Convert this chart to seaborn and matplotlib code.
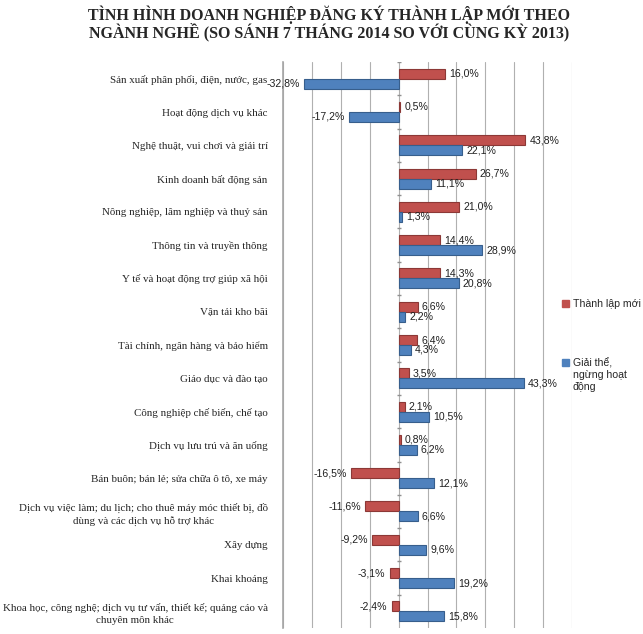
import pandas as pd
import seaborn as sns
import matplotlib.pyplot as plt
from matplotlib.patches import Patch

# Categories (top to bottom) and the two series, in %
nganh = [
    'Sản xuất phân phối, điện, nước, gas',
    'Hoạt động dịch vụ khác',
    'Nghệ thuật, vui chơi và giải trí',
    'Kinh doanh bất động sản',
    'Nông nghiệp, lâm nghiệp và thuỷ sản',
    'Thông tin và truyền thông',
    'Y tế và hoạt động trợ giúp xã hội',
    'Vận tải kho bãi',
    'Tài chính, ngân hàng và bảo hiểm',
    'Giáo dục và đào tạo',
    'Công nghiệp chế biến, chế tạo',
    'Dịch vụ lưu trú và ăn uống',
    'Bán buôn; bán lẻ; sửa chữa ô tô, xe máy',
    'Dịch vụ việc làm; du lịch; cho thuê máy móc thiết bị, đồ\ndùng và các dịch vụ hỗ trợ khác',
    'Xây dựng',
    'Khai khoáng',
    'Khoa học, công nghệ; dịch vụ tư vấn, thiết kế; quảng cáo và\nchuyên môn khác',
]
thanh_lap_moi = [16.0, 0.5, 43.8, 26.7, 21.0, 14.4, 14.3, 6.6, 6.4, 3.5, 2.1, 0.8,
                 -16.5, -11.6, -9.2, -3.1, -2.4]
giai_the = [-32.8, -17.2, 22.1, 11.1, 1.3, 28.9, 20.8, 2.2, 4.3, 43.3, 10.5, 6.2,
            12.1, 6.6, 9.6, 19.2, 15.8]
series = ['Thành lập mới', 'Giải thể, ngừng hoạt động']
x_ticks = [-40, -30, -20, -10, 0, 10, 20, 30, 40, 50, 60]

colors = ['#C0504D', '#4F81BD']
edges = ['#8C3836', '#375E8C']

df = pd.DataFrame({
    'nganh': nganh * 2,
    'giatri': thanh_lap_moi + giai_the,
    'loai': [series[0]] * len(nganh) + [series[1]] * len(nganh),
})

sns.set_style('white')
plt.rcParams['font.family'] = ['Liberation Serif', 'DejaVu Serif']

fig = plt.figure(figsize=(6.43, 6.34), dpi=100)
ax = fig.add_axes([283 / 643, 1 - 628 / 634, (572 - 283) / 643, (628 - 62) / 634])

sns.barplot(data=df, x='giatri', y='nganh', hue='loai', hue_order=series,
            palette=colors, orient='h', width=0.6, ax=ax, legend=False,
            saturation=1)

for cont, ec in zip(ax.containers, edges):
    for bar in cont:
        bar.set_edgecolor(ec)
        bar.set_linewidth(0.8)
        bar.set_zorder(3)
    vals = [b.get_width() for b in cont]
    ax.bar_label(cont, labels=[f'{v:.1f}%'.replace('.', ',') for v in vals],
                 padding=3, fontsize=7.6, family='Liberation Sans', color='#202020',
                 zorder=4)

# small tick dashes at the zero axis
for i in range(len(nganh)):
    ax.plot(0, i - 0.5, marker='_', color='#909090', markersize=3, zorder=2)

ax.set_xlim(-40, 60)
ax.set_ylim(len(nganh) - 0.5, -0.5)
ax.set_xticks(x_ticks)
ax.set_xticklabels([])
ax.tick_params(axis='x', length=0)
ax.tick_params(axis='y', length=0, pad=11, labelsize=7.9)
for lbl in ax.get_yticklabels():
    lbl.set_multialignment('center')
    lbl.set_linespacing(1.45)
ax.grid(axis='x', color='#B0B0B0', linewidth=0.8, zorder=0)
ax.set_xlabel('')
ax.set_ylabel('')
for s in ['top', 'right', 'bottom']:
    ax.spines[s].set_visible(False)
ax.spines['left'].set_color('#A6A6A6')
ax.spines['left'].set_linewidth(1.2)

fig.text(0.512, 0.992, 'TÌNH HÌNH DOANH NGHIỆP ĐĂNG KÝ THÀNH LẬP MỚI THEO\n'
         'NGÀNH NGHỀ (SO SÁNH 7 THÁNG 2014 SO VỚI CÙNG KỲ 2013)',
         ha='center', va='top', fontsize=11.5, fontweight='bold', linespacing=0.98)

# legend: second label wraps below its marker, like the original
leg_font = {'family': 'Liberation Sans', 'size': 7.6}
handles = [Patch(facecolor=c, edgecolor=c) for c in colors]
leg = fig.legend(handles, ['Thành lập mới', 'Giải thể,'], loc='upper left',
                 bbox_to_anchor=(0.868, 1 - 295 / 634), frameon=False,
                 handlelength=0.6, handleheight=0.6, handletextpad=0.4,
                 labelspacing=4.6, prop=leg_font, borderaxespad=0)
fig.canvas.draw()
bb = leg.get_texts()[1].get_window_extent().transformed(fig.transFigure.inverted())
fig.text(bb.x0, bb.y0 - 0.003, 'ngừng hoạt\nđộng', ha='left', va='top',
         linespacing=1.25, **leg_font)

fig.savefig('out.png', dpi=100)
